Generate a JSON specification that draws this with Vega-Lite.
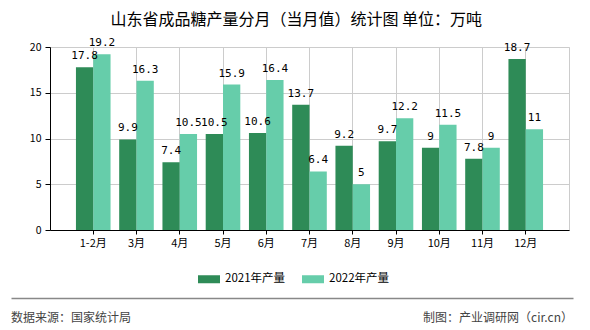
{
  "$schema": "https://vega.github.io/schema/vega-lite/v6.json",
  "padding": {"left": 10, "right": 18, "top": 11, "bottom": 0},
  "title": {"text": "山东省成品糖产量分月（当月值）统计图 单位：万吨", "fontSize": 16, "font": "Noto Sans CJK SC", "fontWeight": "normal", "color": "#000", "anchor": "middle", "offset": 9, "dx": -15},
  "spacing": 12,
  "resolve": {"legend": {"color": "independent"}},
  "config": {"font": "Noto Sans CJK SC", "axis": {"labelFont": "Noto Sans CJK SC"}},
  "vconcat": [
    {
      "width": 519,
      "height": 183,
      "view": {"stroke": "#ccc"},
      "data": {"values": [
        {"month": "1-2月", "year": "2021年产量", "value": 17.8},
        {"month": "1-2月", "year": "2022年产量", "value": 19.2},
        {"month": "3月", "year": "2021年产量", "value": 9.9},
        {"month": "3月", "year": "2022年产量", "value": 16.3},
        {"month": "4月", "year": "2021年产量", "value": 7.4},
        {"month": "4月", "year": "2022年产量", "value": 10.5},
        {"month": "5月", "year": "2021年产量", "value": 10.5},
        {"month": "5月", "year": "2022年产量", "value": 15.9},
        {"month": "6月", "year": "2021年产量", "value": 10.6},
        {"month": "6月", "year": "2022年产量", "value": 16.4},
        {"month": "7月", "year": "2021年产量", "value": 13.7},
        {"month": "7月", "year": "2022年产量", "value": 6.4},
        {"month": "8月", "year": "2021年产量", "value": 9.2},
        {"month": "8月", "year": "2022年产量", "value": 5},
        {"month": "9月", "year": "2021年产量", "value": 9.7},
        {"month": "9月", "year": "2022年产量", "value": 12.2},
        {"month": "10月", "year": "2021年产量", "value": 9},
        {"month": "10月", "year": "2022年产量", "value": 11.5},
        {"month": "11月", "year": "2021年产量", "value": 7.8},
        {"month": "11月", "year": "2022年产量", "value": 9},
        {"month": "12月", "year": "2021年产量", "value": 18.7},
        {"month": "12月", "year": "2022年产量", "value": 11}
      ]},
      "encoding": {
        "x": {"field": "month", "type": "nominal", "sort": null,
          "scale": {"paddingInner": 0.2, "paddingOuter": 0.6},
          "axis": {"title": null, "labelAngle": 0, "grid": true, "gridColor": "#ccc", "domainColor": "#000", "tickColor": "#000", "tickSize": 4, "labelPadding": 3, "labelFontSize": 11, "labelColor": "#000"}},
        "xOffset": {"field": "year", "type": "nominal", "scale": {"paddingInner": 0}},
        "y": {"field": "value", "type": "quantitative", "scale": {"domain": [0, 20]},
          "axis": {"title": null, "values": [0, 5, 10, 15, 20], "grid": true, "gridColor": "#ccc", "domainColor": "#000", "tickColor": "#000", "tickSize": 5, "labelPadding": 4, "labelFontSize": 10.5, "labelColor": "#000", "minExtent": 39}}
      },
      "layer": [
        {
          "mark": {"type": "bar"},
          "encoding": {
            "color": {"field": "year", "type": "nominal",
              "scale": {"domain": ["2021年产量", "2022年产量"], "range": ["#2E8B57", "#66CDAA"]},
              "legend": {"orient": "none", "legendX": 148, "legendY": 221, "padding": 0, "title": null, "direction": "horizontal", "symbolType": "M-1,-0.3636H1V0.3636H-1Z", "symbolSize": 484, "symbolStrokeWidth": 0, "labelFontSize": 11.5, "labelColor": "#000", "columnPadding": 16, "labelOffset": 5}}
          }
        },
        {
          "mark": {"type": "text", "baseline": "alphabetic", "dy": -8, "font": "DejaVu Sans Mono", "fontSize": 11, "color": "#000"},
          "encoding": {"text": {"field": "value", "type": "quantitative"}}
        }
      ]
    },
    {
      "width": 523,
      "height": 40,
      "view": {"stroke": null},
      "data": {"values": [{"source": "数据来源：国家统计局", "maker": "制图：产业调研网（cir.cn）"}]},
      "layer": [
        {
          "mark": {"type": "text", "align": "left", "baseline": "middle", "fontSize": 12, "color": "#444"},
          "encoding": {
            "x": {"datum": 0, "type": "quantitative", "scale": {"domain": [0, 1], "range": [-39, 523]},
              "axis": {"orient": "top", "title": null, "labels": false, "ticks": false, "grid": false, "domainColor": "#888", "domainWidth": 1.5}},
            "text": {"field": "source"}
          }
        },
        {
          "mark": {"type": "text", "align": "right", "baseline": "middle", "fontSize": 12, "color": "#444"},
          "encoding": {
            "x": {"datum": 1, "type": "quantitative"},
            "text": {"field": "maker"}
          }
        }
      ]
    }
  ]
}
